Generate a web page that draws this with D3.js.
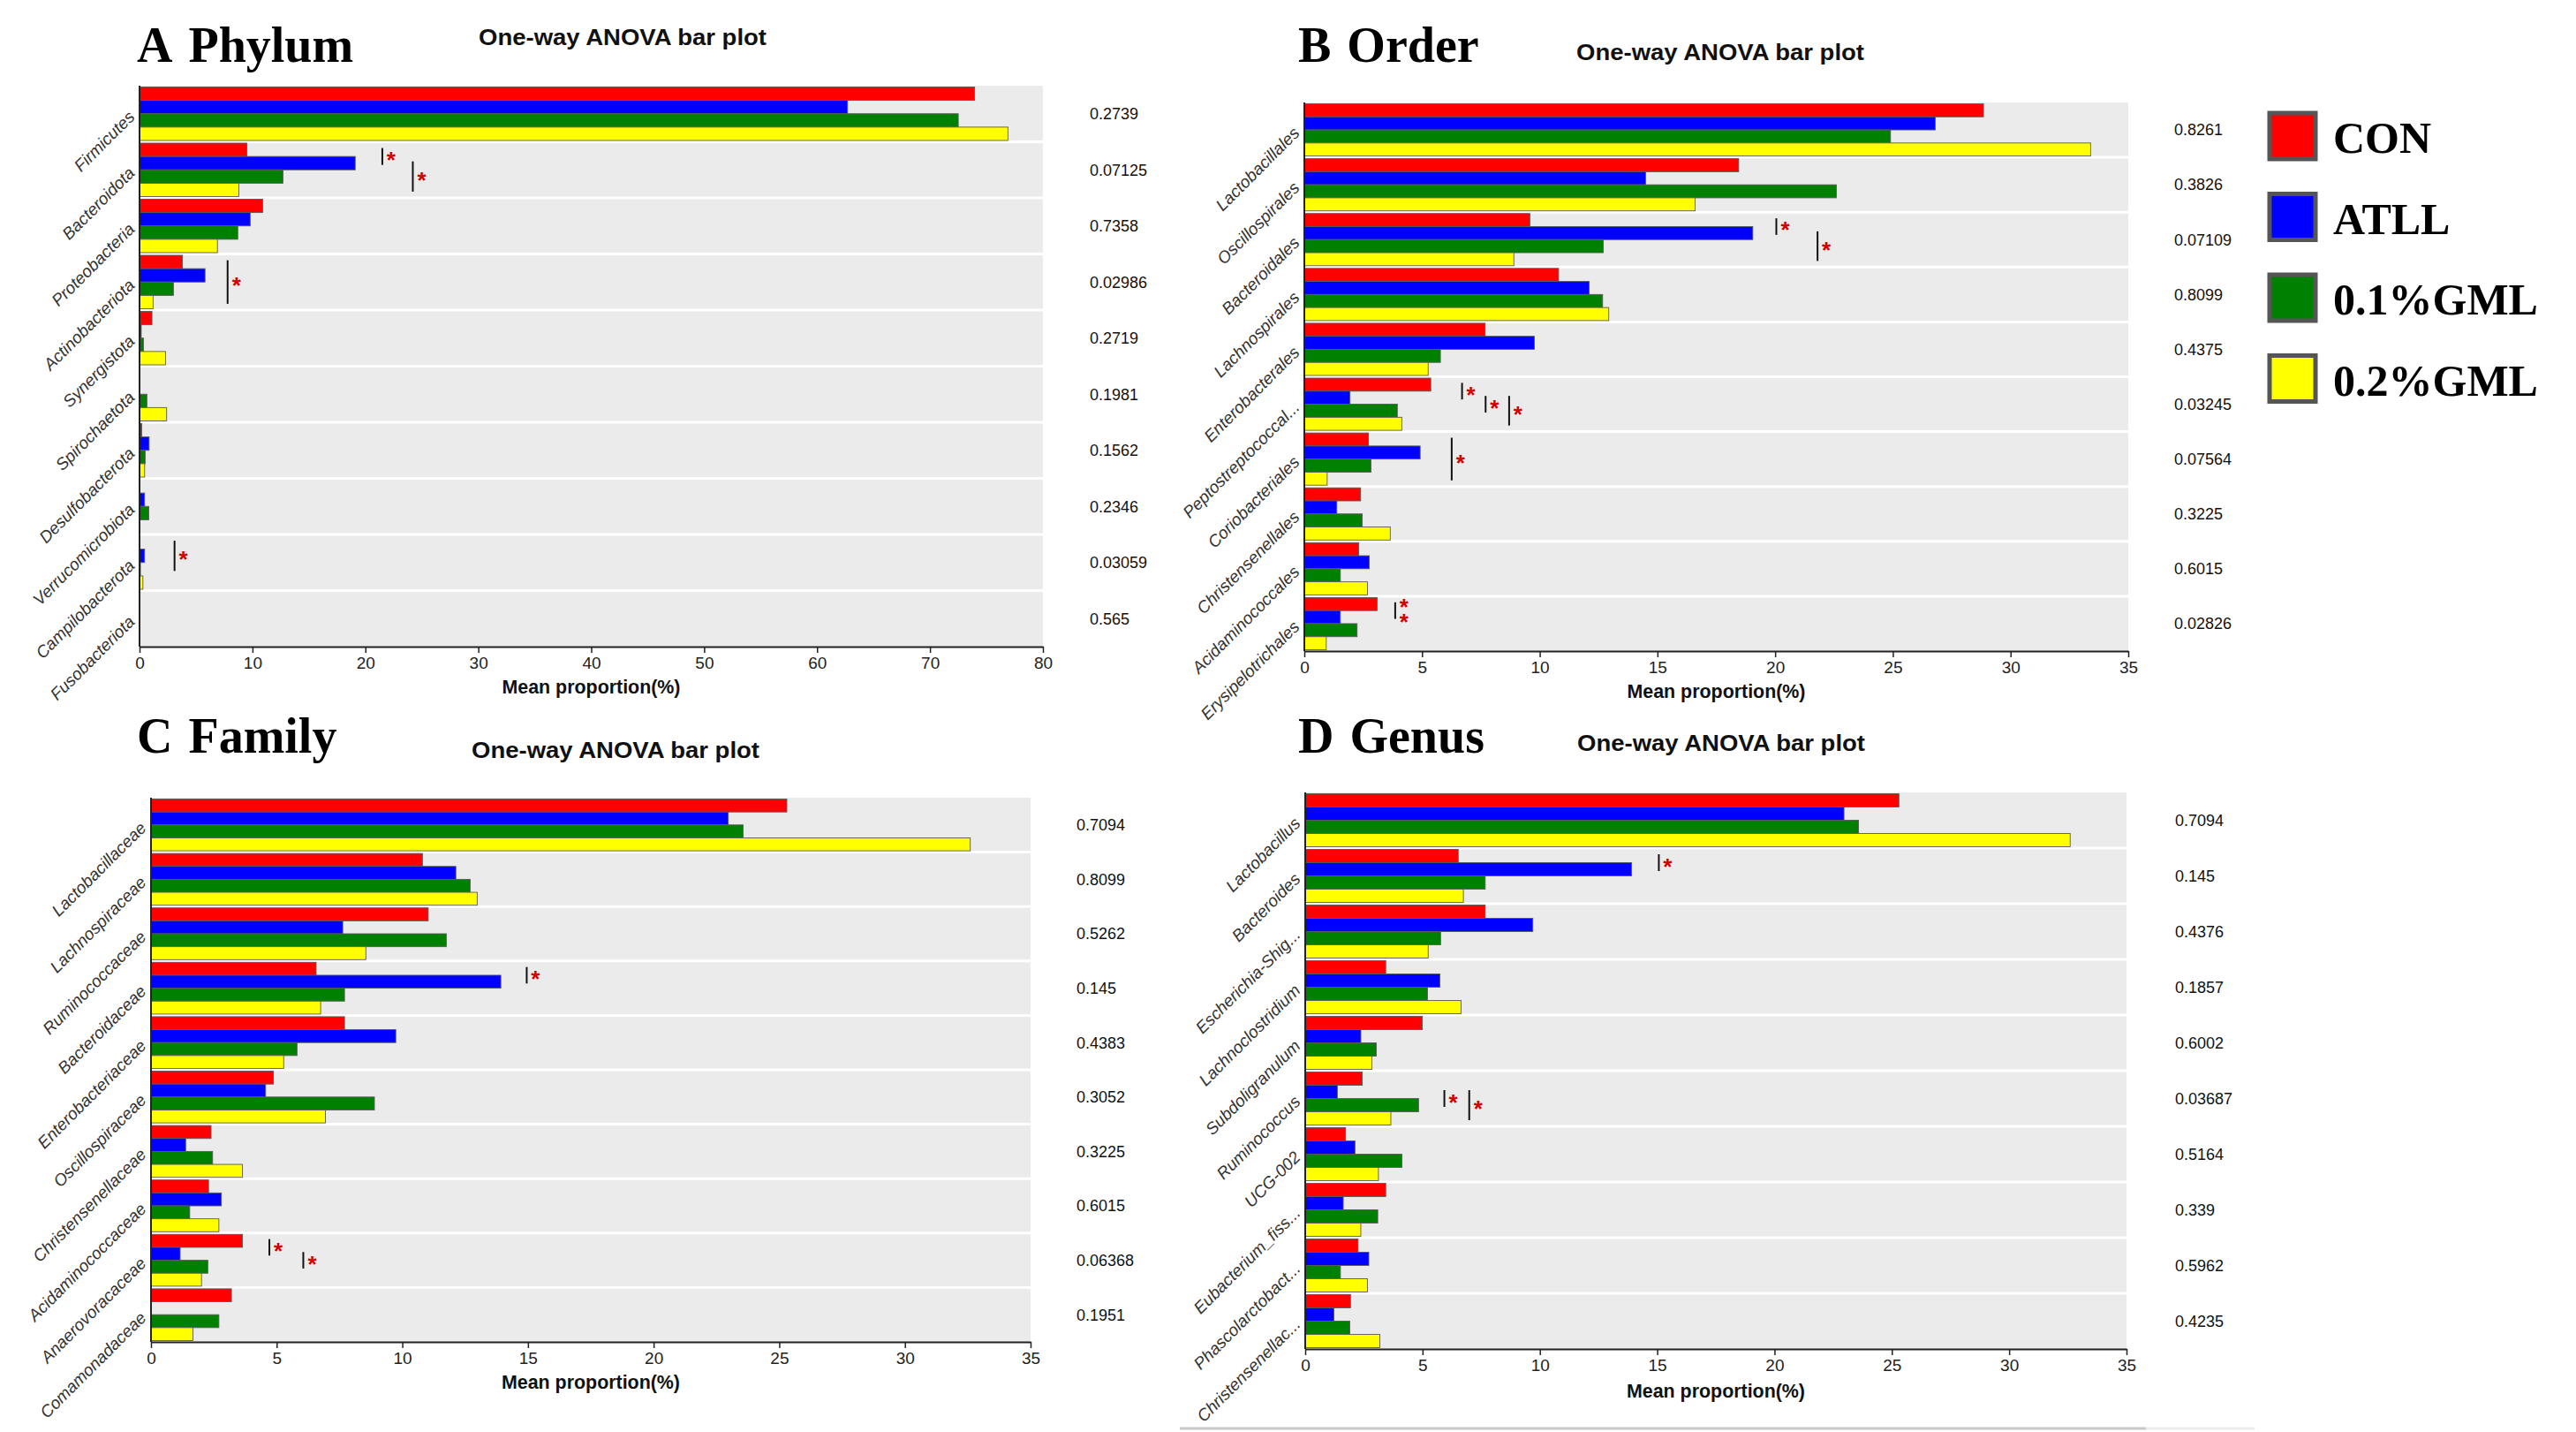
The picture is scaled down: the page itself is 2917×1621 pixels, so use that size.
<!DOCTYPE html>
<html><head><meta charset="utf-8">
<script src="https://cdn.jsdelivr.net/npm/d3@7"></script>
<style>body{margin:0;background:#fff}</style>
</head><body>
<svg id="chart" width="2917" height="1621"></svg>
<script>
// ---------------- DATA ----------------
const groups = ["CON", "ATLL", "0.1%GML", "0.2%GML"];
const groupColors = ["#FF0000", "#0000FF", "#008000", "#FFFF00"];

// A  Phylum
const phylumTaxa = ["Firmicutes","Bacteroidota","Proteobacteria","Actinobacteriota","Synergistota","Spirochaetota","Desulfobacterota","Verrucomicrobiota","Campilobacterota","Fusobacteriota"];
const phylumCON   = [73.95, 9.5, 10.9, 3.8, 1.1, 0.02, 0.2, 0.03, 0.0, 0.03];
const phylumATLL  = [62.7, 19.1, 9.8, 5.8, 0.15, 0.03, 0.85, 0.45, 0.45, 0.02];
const phylumGML01 = [72.5, 12.7, 8.7, 3.0, 0.35, 0.65, 0.5, 0.82, 0.08, 0.02];
const phylumGML02 = [76.9, 8.8, 6.9, 1.2, 2.3, 2.4, 0.45, 0.03, 0.3, 0.02];
const phylumP = ["0.2739","0.07125","0.7358","0.02986","0.2719","0.1981","0.1562","0.2346","0.03059","0.565"];
const phylumSig = [
  {taxon:"Bacteroidota", a:0, b:1, at:21.5, stars:1},
  {taxon:"Bacteroidota", a:1, b:3, at:24.2, stars:1},
  {taxon:"Actinobacteriota", a:0, b:3, at:7.8, stars:1},
  {taxon:"Campilobacterota", a:0, b:2, at:3.1, stars:1}
];
const phylumTicks = [0,10,20,30,40,50,60,70,80];

// B  Order
const orderTaxa = ["Lactobacillales","Oscillospirales","Bacteroidales","Lachnospirales","Enterobacterales","Peptostreptococcal...","Coriobacteriales","Christensenellales","Acidaminococcales","Erysipelotrichales"];
const orderCON   = [28.85, 18.45, 9.58, 10.8, 7.68, 5.37, 2.72, 2.39, 2.31, 3.09];
const orderATLL  = [26.8, 14.5, 19.05, 12.1, 9.77, 1.94, 4.92, 1.38, 2.76, 1.53];
const orderGML01 = [24.9, 22.6, 12.7, 12.67, 5.78, 3.95, 2.83, 2.46, 1.53, 2.24];
const orderGML02 = [33.4, 16.6, 8.9, 12.93, 5.26, 4.14, 0.97, 3.65, 2.68, 0.93];
const orderP = ["0.8261","0.3826","0.07109","0.8099","0.4375","0.03245","0.07564","0.3225","0.6015","0.02826"];
const orderSig = [
  {taxon:"Bacteroidales", a:0, b:1, at:20.05, stars:1},
  {taxon:"Bacteroidales", a:1, b:3, at:21.8, stars:1},
  {taxon:"Peptostreptococcal...", a:0, b:1, at:6.7, stars:1},
  {taxon:"Peptostreptococcal...", a:1, b:2, at:7.7, stars:1},
  {taxon:"Peptostreptococcal...", a:1, b:3, at:8.7, stars:1},
  {taxon:"Coriobacteriales", a:0, b:3, at:6.26, stars:1},
  {taxon:"Erysipelotrichales", a:0, b:1, at:3.86, stars:2}
];
const order35Ticks = [0,5,10,15,20,25,30,35];

// C  Family
const familyTaxa = ["Lactobacillaceae","Lachnospiraceae","Ruminococcaceae","Bacteroidaceae","Enterobacteriaceae","Oscillospiraceae","Christensenellaceae","Acidaminococcaceae","Anaerovoracaceae","Comamonadaceae"];
const familyCON   = [25.3, 10.8, 11.03, 6.57, 7.7, 4.87, 2.39, 2.29, 3.64, 3.2];
const familyATLL  = [22.97, 12.13, 7.63, 13.92, 9.74, 4.56, 1.38, 2.8, 1.16, 0.02];
const familyGML01 = [23.56, 12.7, 11.75, 7.7, 5.81, 8.89, 2.45, 1.54, 2.26, 2.7];
const familyGML02 = [32.6, 12.98, 8.55, 6.75, 5.28, 6.94, 3.64, 2.7, 2.01, 1.67];
const familyP = ["0.7094","0.8099","0.5262","0.145","0.4383","0.3052","0.3225","0.6015","0.06368","0.1951"];
const familySig = [
  {taxon:"Bacteroidaceae", a:0, b:1, at:14.95, stars:1},
  {taxon:"Anaerovoracaceae", a:0, b:1, at:4.71, stars:1},
  {taxon:"Anaerovoracaceae", a:1, b:2, at:6.06, stars:1}
];

// D  Genus
const genusTaxa = ["Lactobacillus","Bacteroides","Escherichia-Shig...","Lachnoclostridium","Subdoligranulum","Ruminococcus","UCG-002","Eubacterium_fiss...","Phascolarctobact...","Christensenellac..."];
const genusCON   = [25.3, 6.52, 7.67, 3.43, 4.99, 2.43, 1.72, 3.43, 2.25, 1.93];
const genusATLL  = [22.96, 13.91, 9.7, 5.74, 2.37, 1.37, 2.12, 1.62, 2.71, 1.22];
const genusGML01 = [23.58, 7.67, 5.77, 5.21, 3.03, 4.83, 4.12, 3.09, 1.5, 1.9];
const genusGML02 = [32.6, 6.74, 5.24, 6.64, 2.84, 3.65, 3.12, 2.37, 2.65, 3.18];
const genusP = ["0.7094","0.145","0.4376","0.1857","0.6002","0.03687","0.5164","0.339","0.5962","0.4235"];
const genusSig = [
  {taxon:"Bacteroides", a:0, b:1, at:15.07, stars:1},
  {taxon:"Ruminococcus", a:1, b:2, at:5.93, stars:1},
  {taxon:"Ruminococcus", a:1, b:3, at:6.99, stars:1}
];

const subtitleText = "One-way ANOVA bar plot";
const axisTitleText = "Mean proportion(%)";

// ---------------- LAYOUT ----------------
const SANS = "'Liberation Sans', Arial, Helvetica, sans-serif";
const SERIF = "'Liberation Serif', 'Times New Roman', Times, serif";
const svg = d3.select("#chart");

const panels = [
  {letter:"A", word:"Phylum", taxa:phylumTaxa, series:[phylumCON,phylumATLL,phylumGML01,phylumGML02], p:phylumP, sig:phylumSig, ticks:phylumTicks,
   left:158, right:1181, top:97, bottom:732, titleX:155, titleY:70, subX:542, subY:51, pX:1234, axTitleY:785},
  {letter:"B", word:"Order", taxa:orderTaxa, series:[orderCON,orderATLL,orderGML01,orderGML02], p:orderP, sig:orderSig, ticks:order35Ticks,
   left:1477, right:2410, top:116, bottom:737, titleX:1470, titleY:70, subX:1785, subY:68, pX:2462, axTitleY:790},
  {letter:"C", word:"Family", taxa:familyTaxa, series:[familyCON,familyATLL,familyGML01,familyGML02], p:familyP, sig:familySig, ticks:order35Ticks,
   left:171, right:1167, top:903, bottom:1519, titleX:155, titleY:852, subX:534, subY:858, pX:1219, axTitleY:1572},
  {letter:"D", word:"Genus", taxa:genusTaxa, series:[genusCON,genusATLL,genusGML01,genusGML02], p:genusP, sig:genusSig, ticks:order35Ticks,
   left:1478, right:2408, top:897, bottom:1527, titleX:1470, titleY:852, subX:1786, subY:850, pX:2463, axTitleY:1582}
];

function drawPanel(c) {
  const g = svg.append("g");
  const xMax = d3.max(c.ticks);
  const x = d3.scaleLinear().domain([0, xMax]).range([c.left, c.right]);
  const y = d3.scaleBand().domain(c.taxa).range([c.top, c.bottom]).paddingInner(0).paddingOuter(0);
  const bw = y.bandwidth();
  const yg = d3.scaleBand().domain(d3.range(groups.length)).range([1.5, bw - 1.5]).padding(0);

  // background
  g.append("rect").attr("x", c.left).attr("y", c.top)
    .attr("width", c.right - c.left).attr("height", c.bottom - c.top)
    .attr("fill", "#EBEBEB");
  // row separators
  g.selectAll("line.sep").data(c.taxa.slice(1)).enter().append("line")
    .attr("x1", c.left).attr("x2", c.right)
    .attr("y1", d => y(d)).attr("y2", d => y(d))
    .attr("stroke", "#fff").attr("stroke-width", 3);

  // bars
  const barData = [];
  c.taxa.forEach((t, i) => c.series.forEach((s, k) => barData.push({t, k, v: s[i]})));
  g.selectAll("rect.bar").data(barData).enter().append("rect")
    .attr("x", x(0))
    .attr("y", d => y(d.t) + yg(d.k))
    .attr("width", d => Math.max(0, x(d.v) - x(0)))
    .attr("height", yg.bandwidth())
    .attr("fill", d => groupColors[d.k])
    .attr("stroke", "#5a5a5a").attr("stroke-width", 0.9);

  // left axis line
  g.append("line").attr("x1", c.left).attr("x2", c.left).attr("y1", c.top).attr("y2", c.bottom)
    .attr("stroke", "#222").attr("stroke-width", 2);

  // bottom axis
  const ax = g.append("g").attr("transform", `translate(0,${c.bottom})`)
    .call(d3.axisBottom(x).tickValues(c.ticks).tickSize(7).tickSizeOuter(0).tickPadding(5).tickFormat(d3.format("d")));
  ax.select(".domain").attr("stroke", "#222").attr("stroke-width", 2.2);
  ax.selectAll(".tick line").attr("stroke", "#222").attr("stroke-width", 1.5);
  ax.selectAll(".tick text").attr("font-family", SANS).attr("font-size", 19).attr("fill", "#222");

  // category labels (rotated)
  g.selectAll("text.cat").data(c.taxa).enter().append("text")
    .attr("transform", d => `translate(${c.left - 9},${y(d) + bw / 2}) rotate(-45)`)
    .attr("dy", "0.35em")
    .attr("text-anchor", "end")
    .attr("font-family", SANS).attr("font-style", "italic").attr("font-size", 19)
    .attr("fill", "#333")
    .text(d => d);

  // p-values
  g.selectAll("text.pv").data(c.taxa).enter().append("text")
    .attr("x", c.pX).attr("y", d => y(d) + bw / 2)
    .attr("dy", "0.35em")
    .attr("font-family", SANS).attr("font-size", 18).attr("fill", "#111")
    .text((d, i) => c.p[i]);

  // significance markers
  c.sig.forEach(s => {
    const ya = y(s.taxon) + yg(s.a) + yg.bandwidth() / 2;
    const yb = y(s.taxon) + yg(s.b) + yg.bandwidth() / 2;
    const y1 = ya - 2, y2 = yb + 2;
    g.append("line").attr("x1", x(s.at)).attr("x2", x(s.at)).attr("y1", y1).attr("y2", y2)
      .attr("stroke", "#111").attr("stroke-width", 2);
    const mid = (y1 + y2) / 2;
    const st = g.append("text").attr("text-anchor", "middle")
      .attr("font-family", SANS).attr("font-weight", "bold").attr("font-size", 26)
      .attr("fill", "#D40000");
    if (s.stars === 2) {
      st.append("tspan").attr("x", x(s.at) + 10).attr("y", ya + 12).text("*");
      st.append("tspan").attr("x", x(s.at) + 10).attr("y", yb + 14).text("*");
    } else {
      st.attr("x", x(s.at) + 10).attr("y", mid + 13).text("*");
    }
  });

  // titles
  const tt = g.append("text").attr("x", c.titleX).attr("y", c.titleY)
    .attr("font-family", SERIF).attr("font-weight", "bold").attr("font-size", 56).attr("fill", "#000");
  tt.append("tspan").text(c.letter);
  tt.append("tspan").attr("dx", 18).text(c.word);

  g.append("text").attr("x", c.subX).attr("y", c.subY)
    .attr("font-family", SANS).attr("font-weight", "bold").attr("font-size", 26)
    .attr("textLength", 326).attr("lengthAdjust", "spacingAndGlyphs")
    .attr("fill", "#111").text(subtitleText);

  g.append("text").attr("x", (c.left + c.right) / 2).attr("y", c.axTitleY)
    .attr("text-anchor", "middle")
    .attr("font-family", SANS).attr("font-weight", "bold").attr("font-size", 22)
    .attr("textLength", 202).attr("lengthAdjust", "spacingAndGlyphs")
    .attr("fill", "#111").text(axisTitleText);
}

panels.forEach(drawPanel);

// legend
const legend = svg.append("g");
groups.forEach((grp, k) => {
  const ly = 128 + k * 91.5;
  legend.append("rect").attr("x", 2570).attr("y", ly).attr("width", 52).attr("height", 52)
    .attr("fill", groupColors[k]).attr("stroke", "#555").attr("stroke-width", 5);
  legend.append("text").attr("x", 2642).attr("y", ly + 45)
    .attr("font-family", SERIF).attr("font-weight", "bold").attr("font-size", 50)
    .attr("fill", "#000").text(grp);
});

// thin bottom rule under panel D
svg.append("line").attr("x1", 1336).attr("x2", 2430).attr("y1", 1617).attr("y2", 1617)
  .attr("stroke", "#c8c8c8").attr("stroke-width", 3);
svg.append("line").attr("x1", 2430).attr("x2", 2553).attr("y1", 1617).attr("y2", 1617)
  .attr("stroke", "#ececec").attr("stroke-width", 3);
</script>
</body></html>
